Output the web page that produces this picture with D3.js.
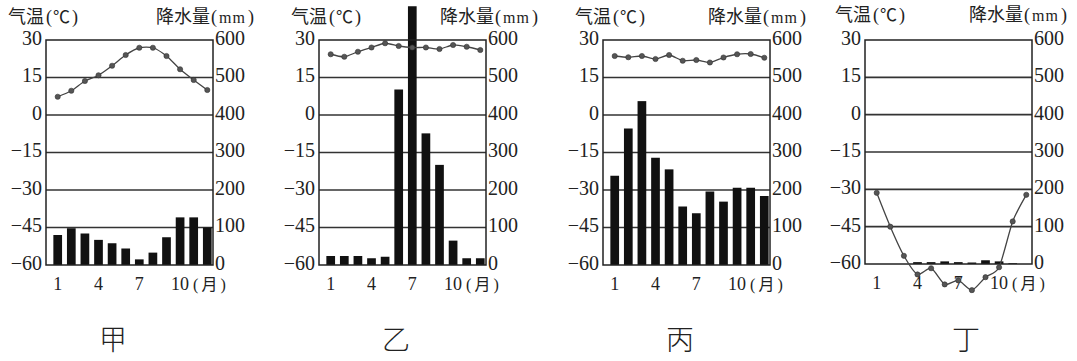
<!DOCTYPE html>
<html>
<head>
<meta charset="utf-8">
<script src="https://cdn.jsdelivr.net/npm/d3@7"></script>
<style>
  body { margin: 0; background: #fff; }
  text { fill: #222; }
</style>
</head>
<body>
<div id="chart"></div>
<script>
// data

var months = [1,2,3,4,5,6,7,8,9,10,11,12];
var monthTicks = [1,4,7,10];
var tempTicks = [30,15,0,-15,-30,-45,-60];
var precipTicks = [600,500,400,300,200,100,0];
var names = ["甲","乙","丙","丁"];

var tempJia = [7.3,9.7,13.6,15.9,19.7,24,26.9,26.9,23.6,18.3,14,10];
var precipJia = [80,98,84,67,58,44,15,33,74,127,127,100];

var tempYi = [24.3,23.3,25.3,27,28.7,27.6,27,27,26.4,28,27.3,26];
var precipYi = [24,24,24,18,22,468,690,351,267,65,18,18];

var tempBing = [23.6,23.1,23.6,22.4,24,21.7,22,21,23,24.3,24.4,22.9];
var precipBing = [238,364,437,286,255,156,138,196,169,206,206,184];

var tempDing = [-31.4,-45,-56.7,-64.2,-61.7,-68.2,-66.6,-70.5,-65.3,-61.3,-42.9,-32.2];
var precipDing = [0,0,0,5,5,7,5,4,10,7,2,0];

var svgWidth = 1077;
var svgHeight = 361;

var svg = d3.select("#chart")
  .append("svg")
  .attr("width", svgWidth)
  .attr("height", svgHeight);

var panels = [
  {temp: tempJia, precip: precipJia, left: 46, top: 40, bottom: 265, head: 38, headR: 41, headY: 23},
  {temp: tempYi, precip: precipYi, left: 319, top: 40, bottom: 265, head: 28, headR: 52, headY: 23},
  {temp: tempBing, precip: precipBing, left: 603, top: 40, bottom: 265, head: 28, headR: 36, headY: 23},
  {temp: tempDing, precip: precipDing, left: 865, top: 40, bottom: 264, head: 30, headR: 35, headY: 21}
];
var boxWidth = 167;
var labelX = [113, 396, 680, 966];

var serif = "Liberation Serif";
var cjk = "Noto Sans CJK SC";

panels.forEach(function(p, i) {
  var g = svg.append("g");
  var right = p.left + boxWidth;

  var xScale = d3.scaleBand()
    .domain(months)
    .range([p.left + 6, right])
    .paddingInner(0.36)
    .paddingOuter(0.1);

  var yTemp = d3.scaleLinear().domain([-60, 30]).range([p.bottom, p.top]);
  var yPrec = d3.scaleLinear().domain([0, 600]).range([p.bottom, p.top]);

  // grid lines
  g.selectAll(".grid").data([15, 0, -15, -30, -45]).enter()
    .append("line")
    .attr("x1", p.left).attr("x2", right)
    .attr("y1", d => yTemp(d)).attr("y2", d => yTemp(d))
    .attr("stroke", "#333").attr("stroke-width", 1.6);

  // bars
  g.selectAll(".bar").data(p.precip).enter()
    .append("rect")
    .attr("x", (d, j) => xScale(months[j]))
    .attr("width", xScale.bandwidth())
    .attr("y", d => yPrec(d))
    .attr("height", d => yPrec(0) - yPrec(d))
    .attr("fill", "#111");

  // box
  g.append("rect")
    .attr("x", p.left).attr("y", p.top)
    .attr("width", boxWidth).attr("height", p.bottom - p.top)
    .attr("fill", "none").attr("stroke", "#222").attr("stroke-width", 1.5);

  // left axis
  var leftAxis = d3.axisLeft(yTemp).tickValues(tempTicks).tickSize(0).tickPadding(4)
    .tickFormat(d => d < 0 ? "\u2212" + Math.abs(d) : d);
  var la = g.append("g").attr("transform", "translate(" + p.left + ",0)").call(leftAxis);
  la.select(".domain").remove();
  la.selectAll("text").attr("font-family", serif).attr("font-size", 20).attr("fill", "#222")
    .attr("dy", "0.22em");

  // right axis
  var rightAxis = d3.axisRight(yPrec).tickValues(precipTicks).tickSize(0).tickPadding(2);
  var ra = g.append("g").attr("transform", "translate(" + right + ",0)").call(rightAxis);
  ra.select(".domain").remove();
  ra.selectAll("text").attr("font-family", serif).attr("font-size", 20).attr("fill", "#222")
    .attr("dy", "0.22em");

  // month axis
  var xMid = m => xScale(m) + xScale.bandwidth() / 2;
  g.selectAll(".mt").data(monthTicks).enter()
    .append("text")
    .attr("x", d => xMid(d))
    .attr("y", p.bottom + 25)
    .attr("text-anchor", "middle")
    .attr("font-family", serif)
    .attr("font-size", 18)
    .text(d => d);
  var unit = g.append("text")
    .attr("x", xMid(10) + 13)
    .attr("y", p.bottom + 25)
    .attr("font-family", serif)
    .attr("font-size", 16);
  unit.append("tspan").text("(");
  unit.append("tspan").attr("dx", 3).attr("font-family", cjk).attr("font-size", 16).text("月");
  unit.append("tspan").attr("dx", 3).text(")");

  // temperature line
  var line = d3.line()
    .x((d, j) => xMid(months[j]))
    .y(d => yTemp(d))
    .curve(d3.curveCardinal.tension(0.3));
  g.append("path")
    .datum(p.temp)
    .attr("d", line)
    .attr("fill", "none")
    .attr("stroke", "#444")
    .attr("stroke-width", 1.3);
  g.selectAll(".pt").data(p.temp).enter()
    .append("circle")
    .attr("cx", (d, j) => xMid(months[j]))
    .attr("cy", d => yTemp(d))
    .attr("r", 2.6)
    .attr("fill", "#555")
    .attr("stroke", "#333")
    .attr("stroke-width", 0.6);

  // headers
  var h1 = g.append("text")
    .attr("x", p.left - p.head)
    .attr("y", p.headY)
    .attr("font-family", cjk)
    .attr("font-size", 18);
  h1.append("tspan").text("气温");
  h1.append("tspan").attr("dx", 2).attr("font-family", serif).attr("font-size", 18).text("(");
  h1.append("tspan").attr("dx", 1).attr("font-size", 17).text("℃");
  h1.append("tspan").attr("dx", 2).attr("font-family", serif).attr("font-size", 18).text(")");

  var h2 = g.append("text")
    .attr("x", right + p.headR)
    .attr("y", p.headY)
    .attr("text-anchor", "end")
    .attr("font-family", cjk)
    .attr("font-size", 18);
  h2.append("tspan").text("降水量");
  h2.append("tspan").attr("dx", 1).attr("font-family", serif).attr("font-size", 18).text("(");
  h2.append("tspan").attr("dx", 2).attr("font-family", serif).attr("font-size", 16).attr("letter-spacing", 1).text("mm");
  h2.append("tspan").attr("dx", 2).attr("font-family", serif).attr("font-size", 18).text(")");

  // panel name
  svg.append("text")
    .attr("x", labelX[i])
    .attr("y", 350)
    .attr("text-anchor", "middle")
    .attr("font-family", cjk)
    .attr("font-size", 28)
    .attr("font-weight", 300)
    .text(names[i]);
});
</script>
</body>
</html>
